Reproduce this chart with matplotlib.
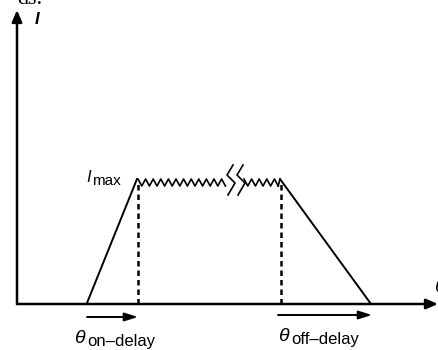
import numpy as np
import matplotlib
matplotlib.use("Agg")
import matplotlib.pyplot as plt

# Diagram values (time axis / current axis, arbitrary units)
t_points = [70, 120, 263, 354]        # ramp start, Imax reached, off start, zero reached
i_max = 125
ripple_amp = 7
ripple_period = 7.6
ripple_seg1 = [121, 209]              # first ripple section
ripple_seg2 = [227, 263]              # second ripple section
break_x = [210, 220]                  # break symbol positions
x_axis_end = 421
y_axis_end = 294

fig = plt.figure(figsize=(4.38, 3.5), dpi=100)
ax = fig.add_axes([0, 0, 1, 1])
ax.set_xlim(-17, 421)
ax.set_ylim(-46, 304)
ax.axis('off')

lw = 1.4
# axes with arrows
ax.annotate('', xy=(0, y_axis_end), xytext=(0, 0),
            arrowprops=dict(arrowstyle='-|>,head_length=0.7,head_width=0.3', lw=1.8, color='black',
                            shrinkA=0, shrinkB=0))
ax.annotate('', xy=(x_axis_end, 0), xytext=(0, 0),
            arrowprops=dict(arrowstyle='-|>,head_length=0.7,head_width=0.3', lw=1.8, color='black',
                            shrinkA=0, shrinkB=0))

# ramp up and down
ax.plot([t_points[0], t_points[1]], [1, i_max], color='black', lw=lw, solid_capstyle='round')
ax.plot([t_points[2], t_points[3]], [i_max, 0], color='black', lw=lw, solid_capstyle='round')

# ripple
def ripple(x0, x1):
    xs = np.arange(x0, x1 + 0.01, ripple_period / 2)
    ys = np.where(np.arange(len(xs)) % 2 == 0, i_max, i_max - ripple_amp)
    return xs, ys

xs, ys = ripple(*ripple_seg1)
ax.plot(np.r_[t_points[1], xs], np.r_[i_max, ys], color='black', lw=1.2)
xs, ys = ripple(*ripple_seg2)
ax.plot(xs, ys, color='black', lw=1.2)
ax.plot([xs[-1], t_points[2]], [ys[-1], i_max], color='black', lw=1.2)

# break symbol
for bx in break_x:
    ax.plot([bx + 6, bx, bx + 8, bx + 1],
            [i_max + 14, i_max + 4, i_max - 4, i_max - 16], color='black', lw=1.2,
            solid_joinstyle='round')

# dashed lines
for t in [t_points[1], t_points[2]]:
    ax.plot([t + 1, t + 1], [0, i_max - 2], color='black', lw=1.8, linestyle=(0, (2.2, 1.6)))

# delay arrows
arr = dict(arrowstyle='-|>,head_length=0.8,head_width=0.25', lw=1.4, color='black',
           shrinkA=0, shrinkB=0)
ax.annotate('', xy=(t_points[1] + 1, -13), xytext=(t_points[0], -13), arrowprops=arr)
ax.annotate('', xy=(t_points[3] + 1, -11), xytext=(t_points[2] - 2, -11), arrowprops=arr)

# labels
sans = 'Liberation Sans'
ax.text(18, 280, 'I', fontsize=12, family=sans, style='italic', weight='bold',
        ha='left', va='baseline')
ax.text(69, 122, 'I', fontsize=12, family=sans, style='italic', ha='left', va='baseline')
ax.text(75.5, 119, 'max', fontsize=11, family=sans, ha='left', va='baseline')

ax.text(57, -39, 'θ', fontsize=14, family=sans, style='italic', ha='left', va='baseline')
ax.text(70, -42, 'on–delay', fontsize=12, family=sans, ha='left', va='baseline')
ax.text(261, -37, 'θ', fontsize=14, family=sans, style='italic', ha='left', va='baseline')
ax.text(274, -40, 'off–delay', fontsize=12, family=sans, ha='left', va='baseline')
ax.text(417, 12, 'θ', fontsize=14, family=sans, style='italic', ha='left', va='baseline')
ax.text(0, 300, 'ds.', fontsize=16, family='Liberation Serif', ha='left', va='baseline')

fig.savefig('out.png', dpi=100)
